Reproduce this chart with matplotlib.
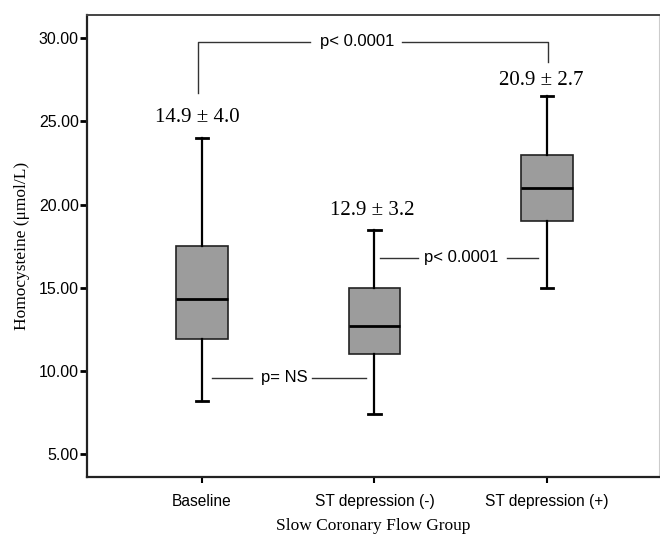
import matplotlib
matplotlib.use('Agg')
import matplotlib.pyplot as plt

groups = ['Baseline', 'ST depression (-)', 'ST depression (+)']
whislo = [8.2, 7.4, 15.0]
q1 = [11.9, 11.0, 19.0]
med = [14.3, 12.7, 21.0]
q3 = [17.5, 15.0, 23.0]
whishi = [24.0, 18.5, 26.5]
mean_sd = ['14.9 \u00b1 4.0', '12.9 \u00b1 3.2', '20.9 \u00b1 2.7']
yticks = [5, 10, 15, 20, 25, 30]

stats = []
for i, g in enumerate(groups):
    stats.append(dict(label=g, whislo=whislo[i], q1=q1[i], med=med[i],
                      q3=q3[i], whishi=whishi[i], fliers=[]))

fig = plt.figure(figsize=(6.6, 5.37), dpi=100)
ax = fig.add_axes([87 / 660, 1 - 477 / 537, 572 / 660, 462 / 537])

pos = [1, 2, 3]
ax.bxp(stats, positions=pos, widths=0.30, patch_artist=True, showfliers=False,
       capwidths=0.07,
       boxprops=dict(facecolor='#9c9c9c', edgecolor='#222222', linewidth=1.2),
       medianprops=dict(color='black', linewidth=2),
       whiskerprops=dict(color='black', linewidth=1.6),
       capprops=dict(color='black', linewidth=2))

ax.set_xlim(0.333, 3.65)
ax.set_ylim(3.62, 31.4)
ax.set_yticks(yticks)
ax.set_yticklabels(['%.2f' % v for v in yticks], fontsize=11.5,
                   family='Liberation Sans')
ax.set_xticks(pos)
ax.set_xticklabels(groups, fontsize=11.2, family='Liberation Sans')
ax.tick_params(axis='y', direction='out', length=5, width=2, pad=1)
ax.tick_params(axis='x', direction='out', length=4, width=1.5, pad=8)

for s in ['left', 'bottom']:
    ax.spines[s].set_linewidth(1.6)
    ax.spines[s].set_color('#222222')
ax.spines['top'].set_linewidth(1.4)
ax.spines['top'].set_color('#444444')
ax.spines['right'].set_linewidth(0.8)
ax.spines['right'].set_color('#cccccc')

ax.set_ylabel('Homocysteine (\u03bcmol/L)', family='Liberation Serif',
              fontsize=12.5, labelpad=6)
ax.set_xlabel('Slow Coronary Flow Group', family='Liberation Serif',
              fontsize=12.5, labelpad=7)

# mean +/- sd labels
lab_x = [0.974, 1.99, 2.97]
lab_y = [25.26, 19.67, 27.49]
for x, y, t in zip(lab_x, lab_y, mean_sd):
    ax.text(x, y, t, ha='center', va='center', fontsize=15,
            family='Liberation Serif')

lc = '#333333'
# top bracket
ax.plot([0.977, 0.977, 1.626], [26.73, 29.8, 29.8], color=lc, lw=1)
ax.plot([2.16, 3.006, 3.006], [29.8, 29.8, 28.6], color=lc, lw=1)
ax.text(1.90, 29.8, 'p< 0.0001', ha='center', va='center', fontsize=12,
        family='Liberation Sans')

# middle comparison
ax.plot([2.03, 2.25], [16.8, 16.8], color=lc, lw=1)
ax.plot([2.77, 2.95], [16.8, 16.8], color=lc, lw=1)
ax.text(2.50, 16.8, 'p< 0.0001', ha='center', va='center', fontsize=12,
        family='Liberation Sans')

# NS comparison
ax.plot([1.058, 1.29], [9.58, 9.58], color=lc, lw=1)
ax.plot([1.64, 1.95], [9.58, 9.58], color=lc, lw=1)
ax.text(1.48, 9.58, 'p= NS', ha='center', va='center', fontsize=12,
        family='Liberation Sans')

fig.savefig('out.png', dpi=100)
